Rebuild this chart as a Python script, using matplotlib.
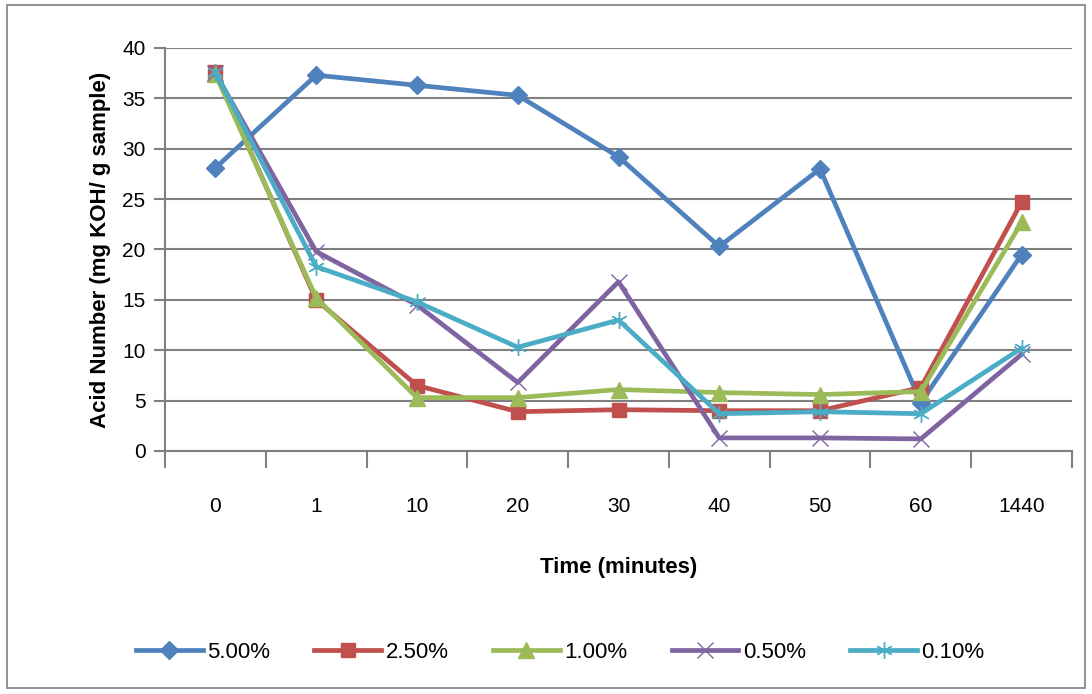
import matplotlib.pyplot as plt
from matplotlib.patches import Rectangle

times = ["0", "1", "10", "20", "30", "40", "50", "60", "1440"]
series_names = ["5.00%", "2.50%", "1.00%", "0.50%", "0.10%"]
acid_5 = [28.1, 37.3, 36.3, 35.3, 29.2, 20.3, 28.0, 4.8, 19.5]
acid_25 = [37.6, 15.0, 6.5, 3.9, 4.1, 4.0, 4.0, 6.3, 24.7]
acid_1 = [37.4, 15.2, 5.3, 5.3, 6.1, 5.8, 5.6, 5.9, 22.7]
acid_05 = [37.5, 19.8, 14.5, 6.8, 16.8, 1.3, 1.3, 1.2, 9.6]
acid_01 = [37.6, 18.3, 14.8, 10.3, 13.0, 3.7, 3.9, 3.7, 10.2]

plt.rcParams['font.family'] = ['Liberation Sans', 'DejaVu Sans']

fig = plt.figure(figsize=(10.92, 6.94), dpi=100)
fig.patches.append(Rectangle((0.006, 0.008), 0.988, 0.985, transform=fig.transFigure,
                             fill=False, edgecolor='#808080', lw=1.2))
ax = fig.add_axes([165 / 1092, 1 - 451 / 694, (1072 - 165) / 1092, (451 - 48) / 694])

x = list(range(len(times)))
styles = [
    (acid_5, '#4F81BD', 'D', 9, 1),
    (acid_25, '#C0504D', 's', 10, 1),
    (acid_1, '#9BBB59', '^', 11, 1),
    (acid_05, '#8064A2', 'x', 11, 1),
    (acid_01, '#4BACC6', (6, 2, 0), 12, 1),
]
for name, (vals, col, mk, ms, mew) in zip(series_names, styles):
    ax.plot(x, vals, color=col, lw=3.4, marker=mk, markersize=ms,
            markeredgewidth=mew, markeredgecolor=col, markerfacecolor=col,
            label=name, zorder=3)

ax.set_xlim(-0.5, len(times) - 0.5)
ax.set_ylim(0, 40)
ax.set_yticks(range(0, 41, 5))
ax.set_xticks([i + 0.5 for i in range(-1, len(times))])
ax.set_xticklabels([])
ax.set_xticks(x, minor=True)
ax.set_xticklabels(times, minor=True)
ax.tick_params(axis='x', which='major', length=12, width=1.5, color='#808080', direction='out')
ax.tick_params(axis='x', which='minor', length=0, pad=33, labelsize=15)
ax.tick_params(axis='y', length=8, width=1.5, color='#808080', direction='out', labelsize=15, pad=6)
ax.grid(axis='y', color='#808080', lw=1.5, zorder=0)
for s in ['top', 'right']:
    ax.spines[s].set_visible(False)
for s in ['left', 'bottom']:
    ax.spines[s].set_color('#808080')
    ax.spines[s].set_linewidth(1.5)

ax.set_xlabel("Time (minutes)", fontsize=16, fontweight='bold', labelpad=30)
ax.set_ylabel("Acid Number (mg KOH/ g sample)", fontsize=16, fontweight='bold', labelpad=8)

fig.legend(loc='center', bbox_to_anchor=(0.513, 1 - 652 / 694), ncol=5, frameon=False,
           fontsize=16, handlelength=3.0, columnspacing=2.0, handletextpad=0.2)

fig.savefig("out.png", dpi=100)
